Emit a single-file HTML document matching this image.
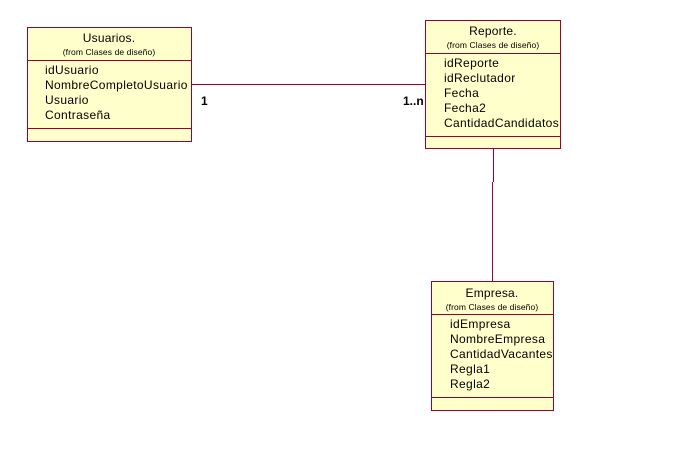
<!DOCTYPE html>
<html><head><meta charset="utf-8"><style>
html,body{margin:0;padding:0;background:#fff;width:688px;height:469px;overflow:hidden}
text{font-family:"Liberation Sans",sans-serif;fill:#000}
.t{font-size:12px;letter-spacing:0.2px}.s{font-size:8.5px;letter-spacing:0.1px}.a{font-size:12px;letter-spacing:0.35px}
.m{font-size:12px;font-weight:bold}
rect{fill:#ffffcc;stroke:#990033;stroke-width:1}
line{stroke:#990033;stroke-width:1}
</style></head><body>
<svg width="688" height="469" xmlns="http://www.w3.org/2000/svg">
<line x1="191" y1="84.5" x2="425" y2="84.5"/>
<line x1="493.5" y1="148" x2="493.5" y2="182"/>
<line x1="492.5" y1="182" x2="492.5" y2="281"/>
<text x="201" y="105" class="m">1</text>
<text x="403" y="105" class="m">1..n</text>

<rect x="27.5" y="27.5" width="164" height="114"/>
<line x1="27.5" y1="60.5" x2="191.5" y2="60.5"/>
<line x1="27.5" y1="128.5" x2="191.5" y2="128.5"/>
<text x="109" y="42" class="t" text-anchor="middle">Usuarios.</text>
<text x="109" y="55" class="s" text-anchor="middle">(from Clases de diseño)</text>
<text x="45" y="74" class="a">idUsuario</text>
<text x="45" y="89" class="a">NombreCompletoUsuario</text>
<text x="45" y="104" class="a">Usuario</text>
<text x="45" y="119" class="a">Contraseña</text>

<rect x="425.5" y="20.5" width="135" height="128"/>
<line x1="425.5" y1="53.5" x2="560.5" y2="53.5"/>
<line x1="425.5" y1="136.5" x2="560.5" y2="136.5"/>
<text x="493" y="35" class="t" text-anchor="middle">Reporte.</text>
<text x="493" y="48" class="s" text-anchor="middle">(from Clases de diseño)</text>
<text x="444" y="67" class="a">idReporte</text>
<text x="444" y="82" class="a">idReclutador</text>
<text x="444" y="97" class="a">Fecha</text>
<text x="444" y="112" class="a">Fecha2</text>
<text x="444" y="127" class="a">CantidadCandidatos</text>

<rect x="431.5" y="281.5" width="122" height="129"/>
<line x1="431.5" y1="314.5" x2="553.5" y2="314.5"/>
<line x1="431.5" y1="397.5" x2="553.5" y2="397.5"/>
<text x="492" y="297" class="t" text-anchor="middle">Empresa.</text>
<text x="492" y="310" class="s" text-anchor="middle">(from Clases de diseño)</text>
<text x="450" y="328" class="a">idEmpresa</text>
<text x="450" y="343" class="a">NombreEmpresa</text>
<text x="450" y="358" class="a">CantidadVacantes</text>
<text x="450" y="373" class="a">Regla1</text>
<text x="450" y="388" class="a">Regla2</text>
</svg>
</body></html>
